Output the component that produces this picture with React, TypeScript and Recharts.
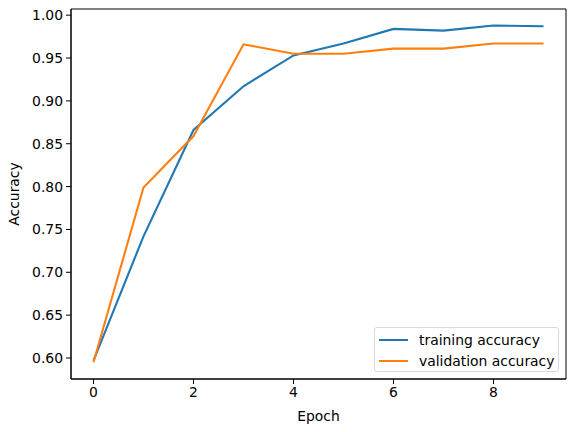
import React from "react";
import { LineChart, Line, XAxis, YAxis, ReferenceArea } from "recharts";

const epochs = [0, 1, 2, 3, 4, 5, 6, 7, 8, 9];
const trainingAccuracy = [0.597, 0.742, 0.866, 0.917, 0.953, 0.967, 0.984, 0.982, 0.988, 0.987];
const validationAccuracy = [0.595, 0.799, 0.859, 0.966, 0.955, 0.955, 0.961, 0.961, 0.967, 0.967];
const xTicks = [0, 2, 4, 6, 8];
const yTicks = [0.6, 0.65, 0.7, 0.75, 0.8, 0.85, 0.9, 0.95, 1.0];
const seriesNames = ["training accuracy", "validation accuracy"];
const colors = ["#1f77b4", "#ff7f0e"];

const data = epochs.map((e, i) => ({
  epoch: e,
  train: trainingAccuracy[i],
  val: validationAccuracy[i],
}));

const X_MIN = -0.45;
const X_MAX = 9.45;
const Y_MIN = 0.5755;
const Y_MAX = 1.0072;
const FONT = "DejaVu Sans, sans-serif";

const LegendBox = () => (
  <div
    style={{
      position: "absolute",
      left: 374,
      top: 327,
      width: 185,
      height: 45,
      border: "1px solid #d9d9d9",
      borderRadius: 3,
      background: "rgba(255,255,255,0.8)",
      fontFamily: FONT,
      fontSize: 13.9,
      color: "#000",
      boxSizing: "border-box",
      paddingTop: 2,
    }}
  >
    {seriesNames.map((n, i) => (
      <div key={n} style={{ display: "flex", alignItems: "center", height: 20.5, marginLeft: 4 }}>
        <div style={{ width: 29, height: 2, background: colors[i], marginRight: 11 }} />
        <span style={{ lineHeight: "16px" }}>{n}</span>
      </div>
    ))}
  </div>
);

export default function App() {
  return (
    <div style={{ position: "absolute", left: 0, top: 0, width: 576, height: 432, background: "#fff" }}>
      <LineChart
        width={576}
        height={432}
        data={data}
        margin={{ top: 9, right: 10, bottom: 0, left: 0 }}
      >
        <XAxis
          dataKey="epoch"
          type="number"
          domain={[X_MIN, X_MAX]}
          ticks={xTicks}
          allowDataOverflow
          stroke="#000"
          tickSize={5}
          tickMargin={3}
          tick={{ fill: "#000", fontSize: 13.9, fontFamily: FONT }}
          height={53}
          label={{ value: "Epoch", position: "insideBottom", offset: 11, fill: "#000", fontSize: 13.9, fontFamily: FONT }}
        />
        <YAxis
          type="number"
          domain={[Y_MIN, Y_MAX]}
          ticks={yTicks}
          allowDataOverflow
          width={71}
          stroke="#000"
          tickSize={5}
          tickMargin={3}
          tickFormatter={(v: number) => v.toFixed(2)}
          tick={{ fill: "#000", fontSize: 13.9, fontFamily: FONT }}
          label={{ value: "Accuracy", angle: -90, position: "insideLeft", offset: 14, fill: "#000", fontSize: 13.9, fontFamily: FONT, style: { textAnchor: "middle" } }}
        />
        <ReferenceArea
          x1={X_MIN}
          x2={X_MAX}
          y1={Y_MIN}
          y2={Y_MAX}
          fill="none"
          stroke="#000"
          strokeWidth={1}
          ifOverflow="visible"
        />
        <Line
          dataKey="train"
          name={seriesNames[0]}
          stroke={colors[0]}
          strokeWidth={2.1}
          dot={false}
          isAnimationActive={false}
        />
        <Line
          dataKey="val"
          name={seriesNames[1]}
          stroke={colors[1]}
          strokeWidth={2.1}
          dot={false}
          isAnimationActive={false}
        />
      </LineChart>
      <LegendBox />
    </div>
  );
}
